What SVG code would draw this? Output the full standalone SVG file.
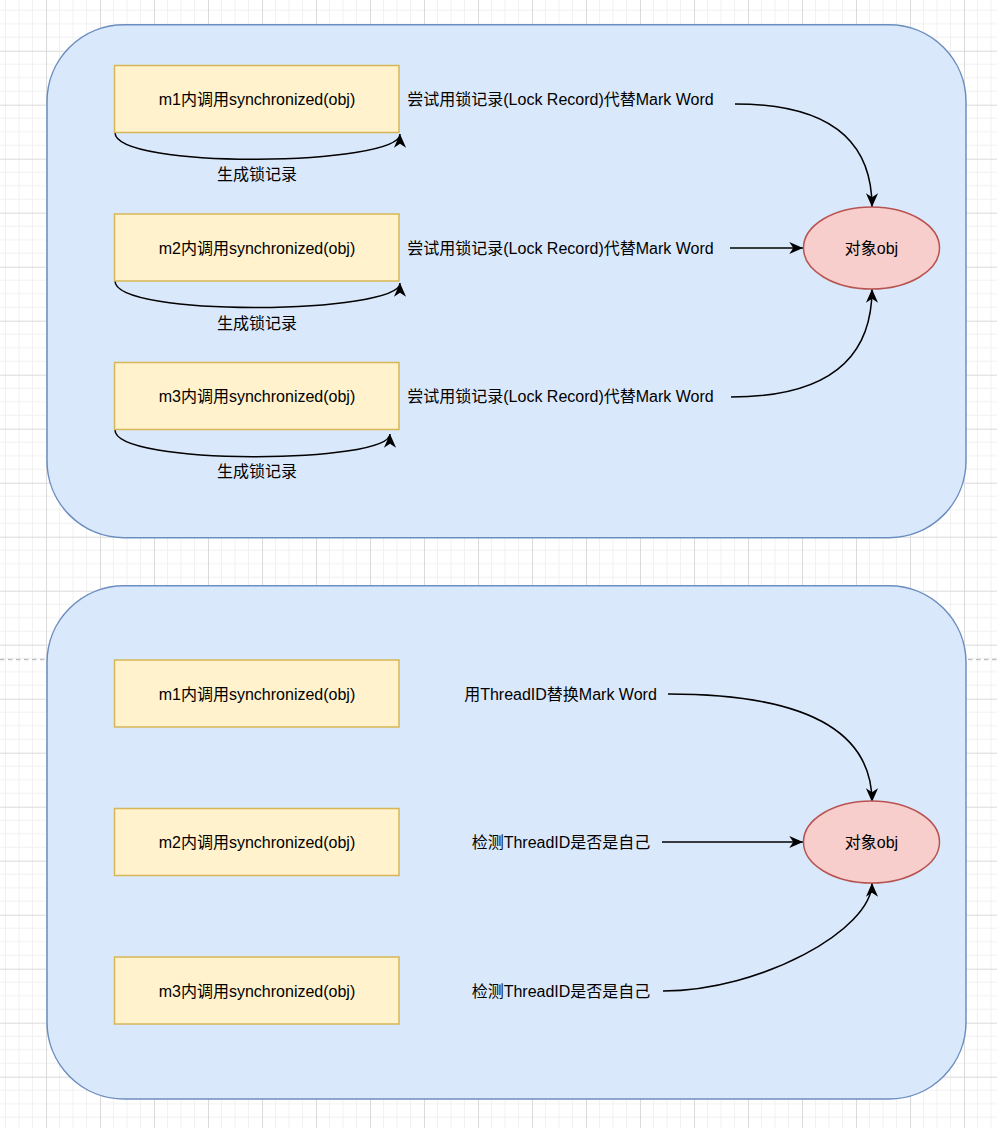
<svg xmlns="http://www.w3.org/2000/svg" width="997" height="1128" viewBox="0 0 997 1128">
<defs>
  <pattern id="grid" patternUnits="userSpaceOnUse" x="100" y="50.7" width="54" height="54">
    <path d="M13.5,0V54M27,0V54M40.5,0V54M0,13.5H54M0,27H54M0,40.5H54" stroke="#f1f1f1" stroke-width="1" fill="none"/>
    <path d="M0.5,0V54M0,0.5H54" stroke="#dadada" stroke-width="1" fill="none"/>
  </pattern>
  <marker id="arr" markerUnits="userSpaceOnUse" markerWidth="16" markerHeight="16" viewBox="-13 -7 14 14" refX="0" refY="0" orient="auto">
    <path d="M0,0 L-12,-5.3 L-8.5,0 L-12,5.3 Z" fill="#000"/>
  </marker>
  <style>
    .container{fill:#dae8fc;stroke:#6c8ebf;stroke-width:1.5}
    .box{fill:#fff2cc;stroke:#d6b656;stroke-width:1.5}
    .obj{fill:#f8cecc;stroke:#b85450;stroke-width:1.5}
    .t{font-family:"Liberation Sans",Arial,"Noto Sans CJK SC",sans-serif;font-size:16px;fill:#000;text-anchor:middle;dominant-baseline:central}
    .edge{fill:none;stroke:#000;stroke-width:1.5;marker-end:url(#arr)}
  </style>
</defs>
<rect width="997" height="1128" fill="#ffffff"/>
<rect width="997" height="1128" fill="url(#grid)"/>
<line x1="0" y1="659.5" x2="997" y2="659.5" stroke="#c0c0c0" stroke-width="1.3" stroke-dasharray="4.5 3.5"/>

<g id="container1"><rect class="container" x="47" y="24.7" width="919" height="513" rx="77" ry="77"/></g>
<g id="container2"><rect class="container" x="47" y="585.7" width="919" height="513.3" rx="77" ry="77"/></g>

<g id="connectors">
  <path class="edge" d="M115,132.5 C115,170 400,166 400,134"/>
  <path class="edge" d="M115,281 C115,318 400,314 400,283"/>
  <path class="edge" d="M115,430 C115,466 390,464 390,434"/>
  <path class="edge" d="M735,104 Q872,104 872,207"/>
  <path class="edge" d="M730,248 L803,248"/>
  <path class="edge" d="M731,397 Q872,397 872,289"/>
  <path class="edge" d="M668,694 Q872,694 872,802"/>
  <path class="edge" d="M662,842 L803,842"/>
  <path class="edge" d="M663,991 C760,991 872,930 872,883"/>
</g>

<g id="m1_top"><rect class="box" x="114.5" y="65.5" width="284.5" height="67"/><text class="t" x="257" y="99.5">m1内调用synchronized(obj)</text></g>
<g id="m2_top"><rect class="box" x="114.5" y="214" width="284.5" height="67"/><text class="t" x="257" y="248">m2内调用synchronized(obj)</text></g>
<g id="m3_top"><rect class="box" x="114.5" y="362.5" width="284.5" height="67"/><text class="t" x="257" y="396.5">m3内调用synchronized(obj)</text></g>

<g id="obj_top"><ellipse class="obj" cx="871.5" cy="248" rx="68" ry="41"/><text class="t" x="871.5" y="248">对象obj</text></g>

<g id="labels_top">
  <text class="t" x="257" y="174.5">生成锁记录</text>
  <text class="t" x="257" y="323">生成锁记录</text>
  <text class="t" x="257" y="471">生成锁记录</text>
  <text class="t" x="560.5" y="99.5">尝试用锁记录(Lock Record)代替Mark Word</text>
  <text class="t" x="560.5" y="248">尝试用锁记录(Lock Record)代替Mark Word</text>
  <text class="t" x="560.5" y="396.5">尝试用锁记录(Lock Record)代替Mark Word</text>
</g>

<g id="m1_bottom"><rect class="box" x="114.5" y="660" width="284.5" height="67"/><text class="t" x="257" y="694">m1内调用synchronized(obj)</text></g>
<g id="m2_bottom"><rect class="box" x="114.5" y="808.5" width="284.5" height="67"/><text class="t" x="257" y="842">m2内调用synchronized(obj)</text></g>
<g id="m3_bottom"><rect class="box" x="114.5" y="957" width="284.5" height="67"/><text class="t" x="257" y="991">m3内调用synchronized(obj)</text></g>

<g id="obj_bottom"><ellipse class="obj" cx="871.5" cy="842" rx="68" ry="41"/><text class="t" x="871.5" y="842">对象obj</text></g>

<g id="labels_bottom">
  <text class="t" x="560.5" y="694">用ThreadID替换Mark Word</text>
  <text class="t" x="561" y="842">检测ThreadID是否是自己</text>
  <text class="t" x="561" y="991">检测ThreadID是否是自己</text>
</g>
</svg>
